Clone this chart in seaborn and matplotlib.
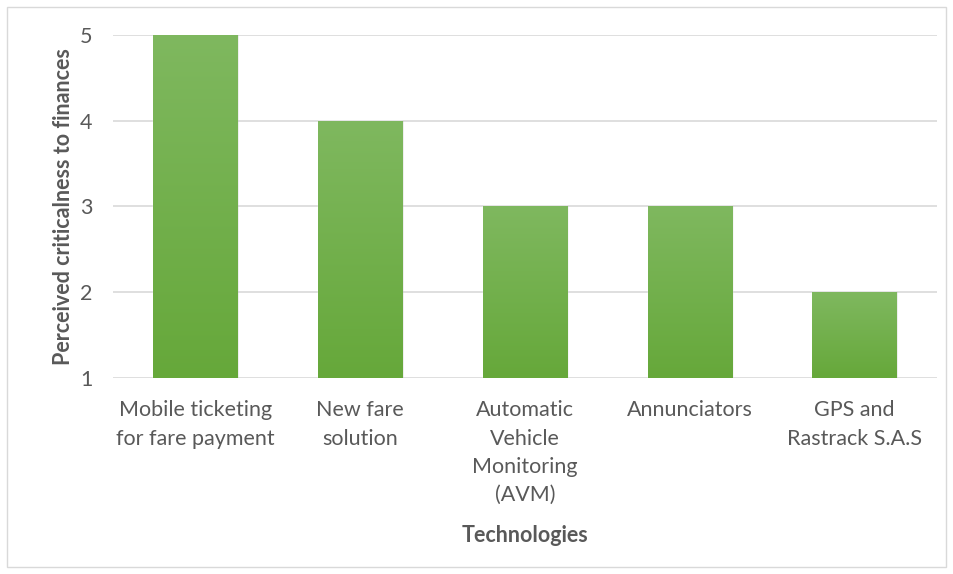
import numpy as np
import pandas as pd
import seaborn as sns
import matplotlib.pyplot as plt
from matplotlib.patches import Rectangle
from matplotlib.colors import LinearSegmentedColormap

# dados do grafico
tecnologias = ['Mobile ticketing\nfor fare payment', 'New fare\nsolution',
               'Automatic\nVehicle\nMonitoring\n(AVM)', 'Annunciators',
               'GPS and\nRastrack S.A.S']
criticidade = [5, 4, 3, 3, 2]
yticks = [1, 2, 3, 4, 5]

df = pd.DataFrame({'Technologies': tecnologias, 'Perceived criticalness to finances': criticidade})

sns.set_style('white')
plt.rcParams['font.family'] = ['Lato', 'DejaVu Sans']

fig = plt.figure(figsize=(9.54, 5.74), dpi=100)
ax = fig.add_axes([0.1185, 0.3415, 0.8635, 0.5976])

ax = sns.barplot(data=df, x='Technologies', y='Perceived criticalness to finances',
                 color='#70ad47', width=0.51, ax=ax, zorder=3)

ax.set_ylim(1, 5)
ax.set_yticks(yticks)
ax.grid(axis='y', color='#d9d9d9', linewidth=1.2, zorder=0)
for s in ax.spines.values():
    s.set_visible(False)

# gradiente nas barras + sombra
cmap = LinearSegmentedColormap.from_list('g', ['#66a83a', '#7fb85f'])
grad = np.linspace(0, 1, 256).reshape(-1, 1)
for p in ax.patches:
    x0, w, h = p.get_x(), p.get_width(), p.get_height()
    for k in range(1, 4):
        sh = Rectangle((x0 + 0.004 * k, 1), w, h - 1, facecolor='black',
                       alpha=0.04, edgecolor='none', zorder=2)
        ax.add_patch(sh)
    im = ax.imshow(grad, cmap=cmap, extent=[x0, x0 + w, 1, h], origin='lower',
                   aspect='auto', zorder=4)
    im.set_clip_path(p)
ax.set_xlim(-0.5, 4.5)

ax.tick_params(axis='both', length=0, labelsize=15.5, labelcolor='#595959')
ax.tick_params(axis='x', pad=16)
ax.tick_params(axis='y', pad=15)
for lbl in ax.get_xticklabels():
    lbl.set_linespacing(1.52)
    lbl.set_verticalalignment('top')
ax.set_xlabel('Technologies', fontsize=15.5, fontweight='bold', color='#595959', labelpad=14)
ax.set_ylabel('Perceived criticalness to finances', fontsize=15.5, fontweight='bold',
              color='#595959', labelpad=4)

fig.patches.append(Rectangle((7 / 954, 7 / 574), 939 / 954, 560 / 574, transform=fig.transFigure,
                             fill=False, edgecolor='#d9d9d9', linewidth=1))

fig.savefig('out.png', dpi=100)
